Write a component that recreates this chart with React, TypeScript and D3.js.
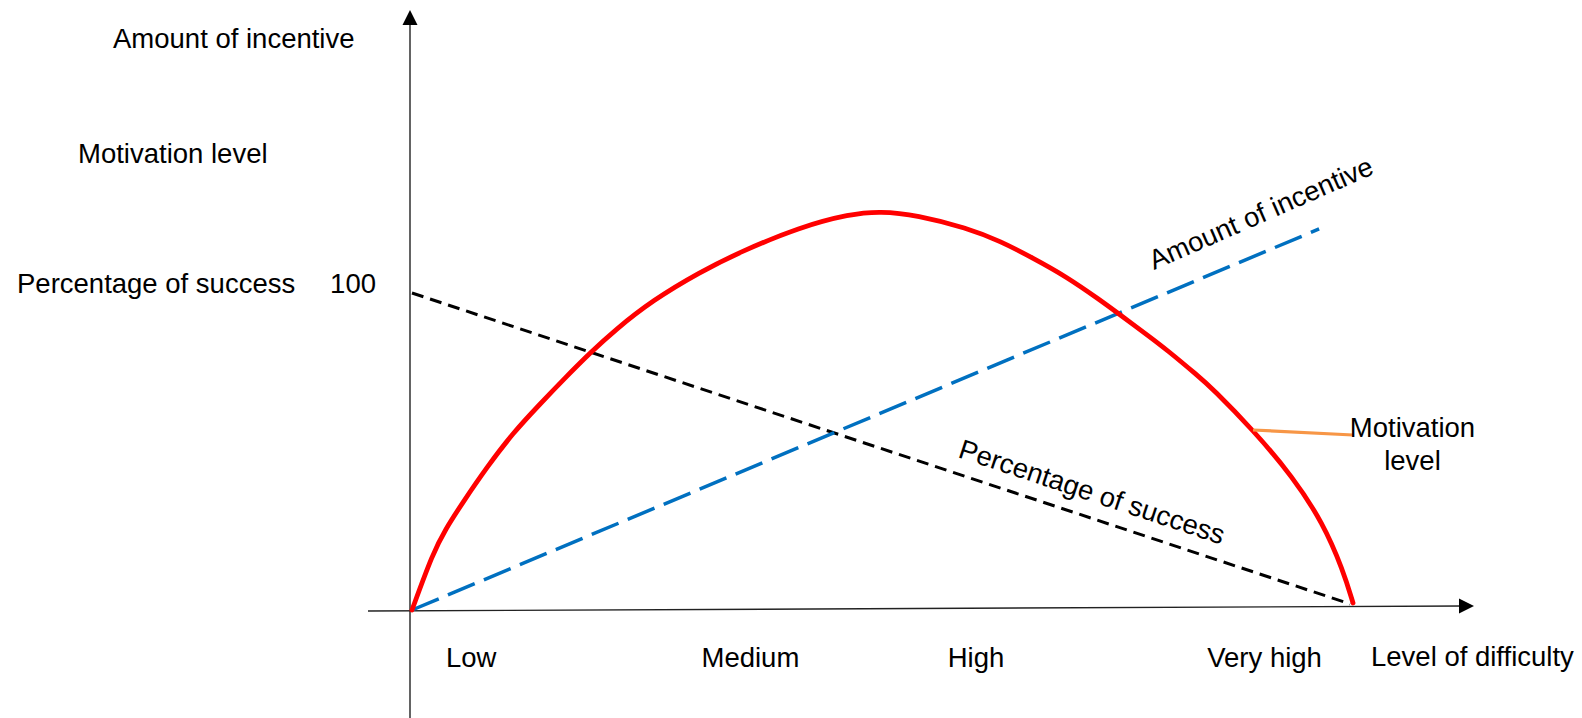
import React from "react";
import * as d3 from "d3";

// ---- data (x: level of difficulty 0..100, y: value, 100 = "100" mark) ----
const motivationX = [0, 2.23, 3.51, 5.43, 7.98, 10.74, 13.62, 16.28, 18.94, 21.6, 25.64, 30.64, 34.89, 41.28, 46.6, 49.79, 53.72, 59.04, 62.55, 66.06, 69.68, 73.19, 75.0, 78.51, 80.32, 83.51, 85.21, 89.47, 93.72, 96.91, 99.04, 100.11];
const motivationY = [0, 17.98, 25.24, 34.07, 45.11, 55.84, 64.98, 73.19, 81.07, 88.33, 97.79, 106.62, 112.93, 120.82, 124.92, 125.8, 124.61, 120.5, 116.4, 111.04, 105.05, 97.79, 93.85, 86.12, 82.02, 74.13, 69.72, 56.78, 41.96, 27.44, 12.62, 2.21];
const successX = [0, 99.8];
const successY = [100, 1.9];
const incentiveX = [0, 96.5];
const incentiveY = [0, 120.2];
const categories = ["Low", "Medium", "High", "Very high"];
const categoryX = [6.3, 36, 60, 90.7];
const yTickLabel = "100";
const yTickValue = 100;
const leftLabels = ["Amount of incentive", "Motivation level", "Percentage of success"];
const xAxisTitle = "Level of difficulty";
const leaderAtX = 89.47;

const W = 1582;
const H = 718;
const FONT = "'Liberation Sans', Arial, Helvetica, sans-serif";
const FS = 27.5;

export default function App() {
  const x = d3.scaleLinear().domain([0, 100]).range([412, 1352]);
  const y = d3.scaleLinear().domain([0, 100]).range([610, 293]);

  const line = d3
    .line<[number, number]>()
    .x((d) => x(d[0]))
    .y((d) => y(d[1]));
  const curve = d3
    .line<[number, number]>()
    .x((d) => x(d[0]))
    .y((d) => y(d[1]))
    .curve(d3.curveBasis);

  const motivation = motivationX.map((v, i) => [v, motivationY[i]] as [number, number]);
  const success = successX.map((v, i) => [v, successY[i]] as [number, number]);
  const incentive = incentiveX.map((v, i) => [v, incentiveY[i]] as [number, number]);

  const axisX = 410;
  const arrowTop = 10;

  const leadIdx = motivationX.indexOf(leaderAtX);
  const lx = x(motivationX[leadIdx]);
  const ly = y(motivationY[leadIdx]);

  const incAngle =
    (Math.atan2(y(incentiveY[1]) - y(incentiveY[0]), x(incentiveX[1]) - x(incentiveX[0])) * 180) / Math.PI;
  const sucAngle =
    (Math.atan2(y(successY[1]) - y(successY[0]), x(successX[1]) - x(successX[0])) * 180) / Math.PI;

  return (
    <svg
      width={W}
      height={H}
      style={{ position: "absolute", left: 0, top: 0, display: "block", background: "#fff" }}
      fontFamily={FONT}
    >
      {/* y axis */}
      <line x1={axisX} y1={H} x2={axisX} y2={arrowTop + 12} stroke="#222" strokeWidth={1.4} />
      <path d={`M${axisX},${arrowTop} L${axisX - 7.5},${arrowTop + 15} L${axisX + 7.5},${arrowTop + 15} Z`} fill="#000" />
      {/* x axis (slightly tilted as in the reference) */}
      <line x1={368} y1={611} x2={1462} y2={606} stroke="#222" strokeWidth={1.4} />
      <path d={`M1474,606 L1459,598.5 L1459,613.5 Z`} fill="#000" />

      {/* percentage of success */}
      <path d={line(success) || ""} fill="none" stroke="#000" strokeWidth={3} strokeDasharray="12,7" />
      {/* amount of incentive */}
      <path d={line(incentive) || ""} fill="none" stroke="#0070C0" strokeWidth={3.5} strokeDasharray="29,10" />
      {/* motivation level */}
      <path d={curve(motivation) || ""} fill="none" stroke="#FF0000" strokeWidth={4.8} strokeLinecap="round" />

      {/* leader */}
      <line x1={lx} y1={ly} x2={1353} y2={435} stroke="#F79646" strokeWidth={3.2} />
      <text x={1412.5} y={437} fontSize={FS} textAnchor="middle" fill="#000">Motivation</text>
      <text x={1412.5} y={470} fontSize={FS} textAnchor="middle" fill="#000">level</text>

      {/* rotated line labels */}
      <text x={1154} y={270} fontSize={FS} fill="#000" transform={`rotate(${incAngle - 0.8},1154,270)`}>
        Amount of incentive
      </text>
      <text x={957} y={457} fontSize={FS} fill="#000" transform={`rotate(${sucAngle},957,457)`}>
        Percentage of success
      </text>

      {/* left labels */}
      <text x={113} y={48} fontSize={FS} fill="#000">{leftLabels[0]}</text>
      <text x={78} y={163} fontSize={FS} fill="#000">{leftLabels[1]}</text>
      <text x={17} y={293} fontSize={FS} fill="#000">{leftLabels[2]}</text>
      <text x={376} y={y(yTickValue)} fontSize={FS} textAnchor="end" fill="#000">{yTickLabel}</text>

      {/* category labels */}
      {categories.map((c, i) => (
        <text key={c} x={x(categoryX[i])} y={667} fontSize={FS} textAnchor="middle" fill="#000">
          {c}
        </text>
      ))}
      <text x={1371} y={666} fontSize={FS} fill="#000">{xAxisTitle}</text>
    </svg>
  );
}
